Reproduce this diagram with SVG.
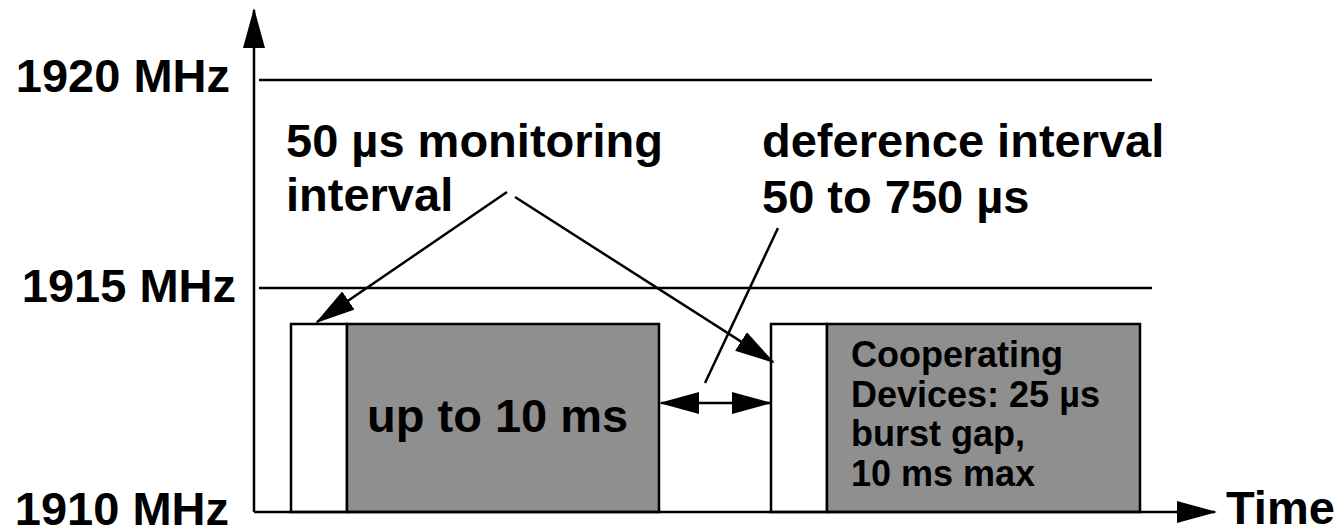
<svg xmlns="http://www.w3.org/2000/svg" width="1340" height="528" viewBox="0 0 1340 528">
  <style>
    .lbl { font-family: "Liberation Sans", Arial, Helvetica, sans-serif; font-weight: bold; fill: #000; }
    .big { font-size: 47px; }
    .small { font-size: 36px; }
    .ln { stroke: #000; stroke-width: 2.5; fill: none; }
    .box { stroke: #000; stroke-width: 2.5; }
    .gray { fill: #8f8f8f; }
    .white { fill: #fff; }
  </style>
  <defs>
    <marker id="head" markerUnits="userSpaceOnUse" markerWidth="40" markerHeight="22" refX="38" refY="11" orient="auto-start-reverse" viewBox="0 0 40 22">
      <path d="M0,0 L40,11 L0,22 Z" fill="#000"/>
    </marker>
  </defs>
  <rect width="1340" height="528" fill="#fff"/>

  <!-- frequency grid lines -->
  <g id="grid">
    <line class="ln" x1="259" y1="80" x2="1152" y2="80"/>
    <line class="ln" x1="259" y1="288" x2="1152" y2="288"/>
  </g>

  <!-- first burst: monitoring slot + transmission -->
  <g id="burst1">
    <rect class="box white" x="291" y="324" width="56" height="188"/>
    <rect class="box gray" x="347" y="324" width="312" height="188"/>
    <text class="lbl big" x="367" y="432">up to 10 ms</text>
  </g>

  <!-- second burst: monitoring slot + cooperating transmission -->
  <g id="burst2">
    <rect class="box white" x="771" y="324" width="56" height="188"/>
    <rect class="box gray" x="827" y="324" width="313" height="188"/>
    <text class="lbl small" x="851" y="367">Cooperating</text>
    <text class="lbl small" x="851" y="407">Devices: 25 µs</text>
    <text class="lbl small" x="851" y="446">burst gap,</text>
    <text class="lbl small" x="851" y="486">10 ms max</text>
  </g>

  <!-- axes -->
  <g id="axes">
    <line class="ln" x1="254" y1="512" x2="254" y2="10" marker-end="url(#head)"/>
    <line class="ln" x1="254" y1="512" x2="1215" y2="512" marker-end="url(#head)"/>
  </g>

  <!-- axis labels -->
  <g id="labels">
    <text class="lbl big" x="230" y="92" text-anchor="end">1920 MHz</text>
    <text class="lbl big" x="236" y="302" text-anchor="end">1915 MHz</text>
    <text class="lbl big" x="229" y="525" text-anchor="end">1910 MHz</text>
    <text class="lbl big" x="1226" y="524">Time</text>
  </g>

  <!-- annotations -->
  <g id="monitoring-note">
    <text class="lbl big" x="286" y="157">50 µs monitoring</text>
    <text class="lbl big" x="286" y="211">interval</text>
  </g>
  <g id="deference-note">
    <text class="lbl big" x="762" y="157">deference interval</text>
    <text class="lbl big" x="762" y="213">50 to 750 µs</text>
  </g>

  <!-- connectors -->
  <g id="connectors">
    <line class="ln" x1="507" y1="192" x2="317" y2="322" marker-end="url(#head)"/>
    <line class="ln" x1="515" y1="197" x2="773" y2="362" marker-end="url(#head)"/>
    <line class="ln" x1="778" y1="228" x2="705" y2="383"/>
    <line class="ln" x1="661" y1="403" x2="770" y2="403" marker-start="url(#head)" marker-end="url(#head)"/>
  </g>
</svg>
